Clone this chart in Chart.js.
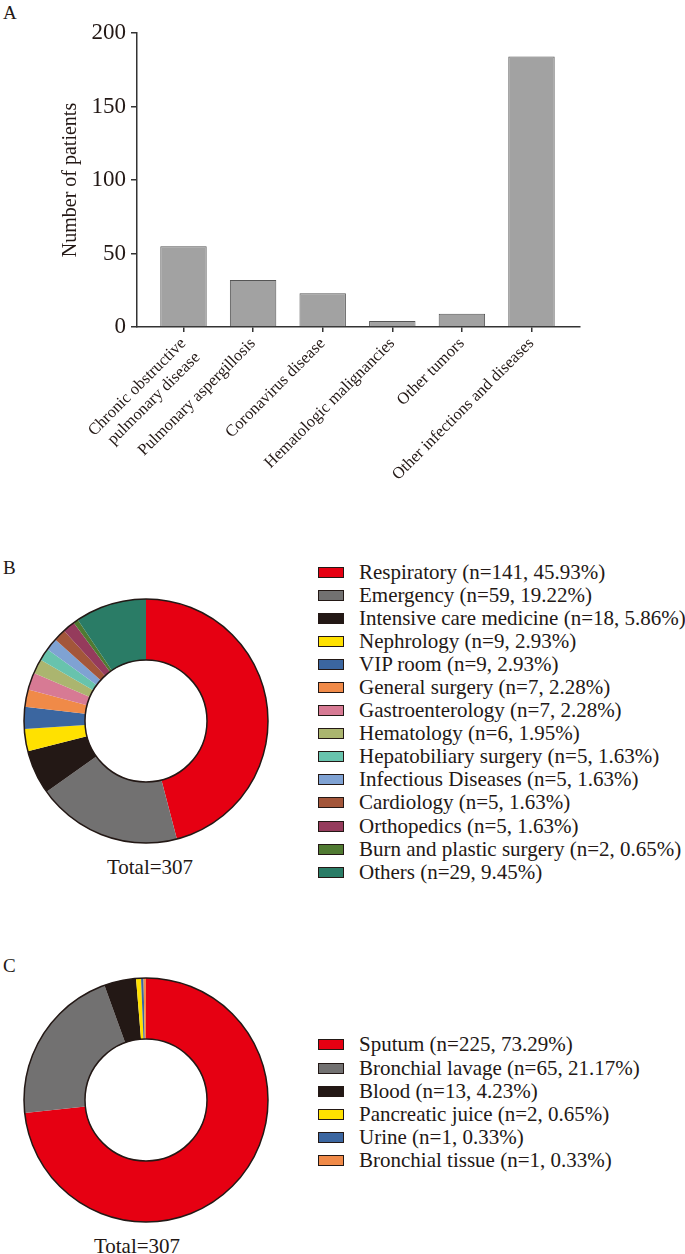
<!DOCTYPE html>
<html>
<head>
<meta charset="utf-8">
<script src="https://cdn.jsdelivr.net/npm/chart.js@4.4.1/dist/chart.umd.min.js"></script>
<style>
  body { margin: 0; background: #fff; width: 685px; height: 1254px; position: relative; overflow: hidden;
         font-family: "Liberation Serif", "Times New Roman", serif; color: #231815; }
  .wrap { position: absolute; }
  .panel { position: absolute; font-size: 19px; line-height: 1; }
  .total { position: absolute; font-size: 21px; transform: translate(-50%, -50%); white-space: nowrap; }
  .legend { position: absolute; left: 318px; font-size: 21px; }
  .legend .row { display: flex; align-items: center; white-space: nowrap; }
  .legend .box { width: 24px; height: 9px; border: 1.5px solid #231815; margin-right: 15px; flex: none; }
</style>
</head>
<body>
<div class="panel" style="left:3px;top:3px">A</div>
<div class="panel" style="left:3px;top:558px">B</div>
<div class="panel" style="left:3px;top:956px">C</div>

<div class="wrap" style="left:0;top:0;width:685px;height:527px"><canvas id="bars"></canvas></div>
<div class="wrap" style="left:21px;top:596px;width:250px;height:250px"><canvas id="wards"></canvas></div>
<div class="wrap" style="left:21px;top:975px;width:250px;height:250px"><canvas id="samples"></canvas></div>

<div class="total" style="left:150px;top:867px">Total=307</div>
<div class="total" style="left:137px;top:1246px">Total=307</div>

<div class="legend" id="legendB" style="top:560.5px"></div>
<div class="legend" id="legendC" style="top:1033.4px"></div>

<script>
// Panel A: underlying diseases
const diseases = [
  ['Chronic obstructive', 'pulmonary disease'],
  'Pulmonary aspergillosis',
  'Coronavirus disease',
  'Hematologic malignancies',
  'Other tumors',
  'Other infections and diseases'
];
const patients = [55, 32, 23, 4, 9, 184];
const yTicks = [0, 50, 100, 150, 200];

// Panel B: wards
const wards = ['Respiratory', 'Emergency', 'Intensive care medicine', 'Nephrology', 'VIP room',
  'General surgery', 'Gastroenterology', 'Hematology', 'Hepatobiliary surgery',
  'Infectious Diseases', 'Cardiology', 'Orthopedics', 'Burn and plastic surgery', 'Others'];
const wardCounts = [141, 59, 18, 9, 9, 7, 7, 6, 5, 5, 5, 5, 2, 29];
const wardPct = ['45.93', '19.22', '5.86', '2.93', '2.93', '2.28', '2.28', '1.95', '1.63', '1.63', '1.63', '1.63', '0.65', '9.45'];
const wardColors = ['#e60012', '#727171', '#231815', '#ffe100', '#3b66a0', '#f08a48', '#d77a94',
  '#abb56f', '#68c3ad', '#7fa2d3', '#a3563a', '#953b5c', '#507a32', '#2a7c66'];

// Panel C: specimen types
const specimens = ['Sputum', 'Bronchial lavage', 'Blood', 'Pancreatic juice', 'Urine', 'Bronchial tissue'];
const specimenCounts = [225, 65, 13, 2, 1, 1];
const specimenPct = ['73.29', '21.17', '4.23', '0.65', '0.33', '0.33'];
const specimenColors = ['#e60012', '#727171', '#231815', '#ffe100', '#3b66a0', '#f08a48'];

const serif = '"Liberation Serif", "Times New Roman", serif';
const ink = '#231815';

new Chart(document.getElementById('bars'), {
  type: 'bar',
  data: {
    datasets: [{
      data: patients.map((v, i) => ({ x: i, y: v })),
      backgroundColor: '#a2a2a2',
      borderColor: '#555',
      borderWidth: 1,
      barPercentage: 0.667,
      categoryPercentage: 1
    }]
  },
  options: {
    responsive: true,
    maintainAspectRatio: false,
    animation: false,
    layout: { padding: { left: 50, right: 105, top: 33, bottom: 0 } },
    plugins: { legend: { display: false }, tooltip: { enabled: false } },
    scales: {
      x: {
        type: 'linear',
        min: -0.668,
        max: 5.697,
        offset: false,
        afterBuildTicks: (s) => { s.ticks = diseases.map((_, i) => ({ value: i })); },
        afterFit: (s) => { s.height = 200; },
        border: { color: '#333', width: 1.5 },
        grid: { offset: false, drawOnChartArea: false, drawTicks: true, tickLength: 5, color: '#333', lineWidth: 1.5 },
        ticks: {
          autoSkip: false,
          minRotation: 45,
          maxRotation: 45,
          padding: 2,
          color: ink,
          font: { family: serif, size: 16.5 },
          callback: (v) => diseases[v]
        }
      },
      y: {
        min: 0,
        max: 200,
        afterBuildTicks: (s) => { s.ticks = yTicks.map(v => ({ value: v })); },
        afterFit: (s) => { s.width = 87; },
        border: { color: '#333', width: 1.5 },
        grid: { drawOnChartArea: false, drawTicks: true, tickLength: 6, color: '#333', lineWidth: 1.5 },
        ticks: { padding: 5, color: ink, font: { family: serif, size: 23 } },
        title: {
          display: true,
          text: 'Number of patients',
          color: ink,
          font: { family: serif, size: 20 },
          padding: { top: 9, bottom: 0 }
        }
      }
    }
  }
});

// outline only the outer and inner edge of the ring
const ringOutline = {
  id: 'ringOutline',
  afterDatasetsDraw(chart) {
    const arc = chart.getDatasetMeta(0).data[0];
    if (!arc) return;
    const ctx = chart.ctx;
    ctx.save();
    ctx.strokeStyle = ink;
    ctx.lineWidth = 1.5;
    [arc.outerRadius, arc.innerRadius].forEach(r => {
      ctx.beginPath();
      ctx.arc(arc.x, arc.y, r, 0, Math.PI * 2);
      ctx.stroke();
    });
    ctx.restore();
  }
};

function ring(id, counts, colors) {
  new Chart(document.getElementById(id), {
    type: 'doughnut',
    data: { datasets: [{ data: counts, backgroundColor: colors, borderWidth: 0 }] },
    options: {
      responsive: true,
      maintainAspectRatio: false,
      animation: false,
      cutout: '50%',
      layout: { padding: 3 },
      plugins: { legend: { display: false }, tooltip: { enabled: false } }
    },
    plugins: [ringOutline]
  });
}
ring('wards', wardCounts, wardColors);
ring('samples', specimenCounts, specimenColors);

function legend(el, names, counts, pct, colors, rowH) {
  names.forEach((name, i) => {
    const row = document.createElement('div');
    row.className = 'row';
    row.style.height = rowH + 'px';
    const box = document.createElement('span');
    box.className = 'box';
    box.style.background = colors[i];
    const txt = document.createElement('span');
    txt.textContent = name + ' (n=' + counts[i] + ', ' + pct[i] + '%)';
    row.appendChild(box);
    row.appendChild(txt);
    el.appendChild(row);
  });
}
legend(document.getElementById('legendB'), wards, wardCounts, wardPct, wardColors, 23.1);
legend(document.getElementById('legendC'), specimens, specimenCounts, specimenPct, specimenColors, 23.2);
</script>
</body>
</html>
